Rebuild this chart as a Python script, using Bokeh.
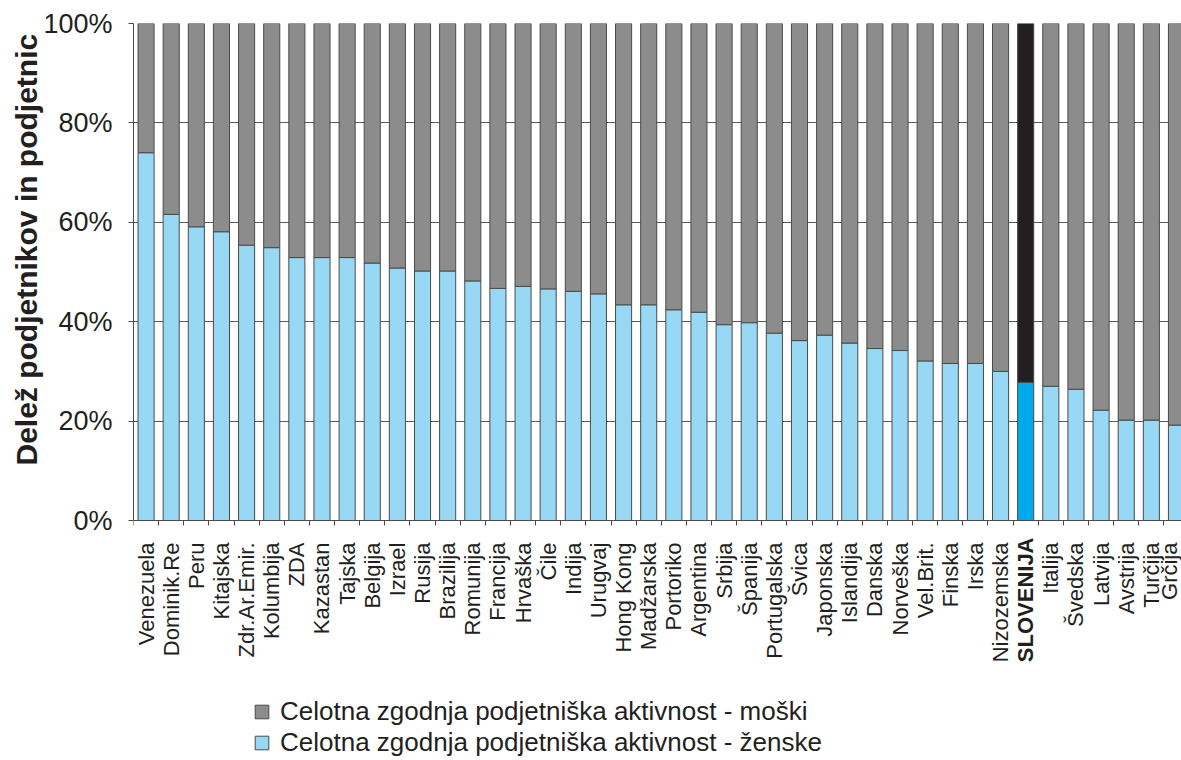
import math
from bokeh.plotting import figure
from bokeh.models import (ColumnDataSource, Range1d, FixedTicker, PrintfTickFormatter,
                          Legend, LegendItem, Label, Title)
from bokeh.transform import stack
from bokeh.embed import file_html
from bokeh.resources import INLINE

countries = ["Venezuela", "Dominik.Re", "Peru", "Kitajska", "Zdr.Ar.Emir.", "Kolumbija", "ZDA",
             "Kazastan", "Tajska", "Belgija", "Izrael", "Rusija", "Brazilija", "Romunija",
             "Francija", "Hrvaška", "Čile", "Indija", "Urugvaj", "Hong Kong", "Madžarska",
             "Portoriko", "Argentina", "Srbija", "Španija", "Portugalska", "Švica", "Japonska",
             "Islandija", "Danska", "Norveška", "Vel.Brit.", "Finska", "Irska", "Nizozemska",
             "SLOVENIJA", "Italija", "Švedska", "Latvija", "Avstrija", "Turčija", "Grčija"]
female = [74.0, 61.6, 59.1, 58.1, 55.4, 54.9, 52.9, 52.9, 52.9, 51.8, 50.8, 50.2, 50.2, 48.2,
          46.7, 47.1, 46.6, 46.1, 45.6, 43.4, 43.4, 42.4, 41.9, 39.4, 39.8, 37.7, 36.2, 37.3,
          35.7, 34.6, 34.2, 32.1, 31.6, 31.6, 30.0, 27.8, 27.0, 26.4, 22.2, 20.2, 20.2, 19.2]
male = [26.0, 38.4, 40.9, 41.9, 44.6, 45.1, 47.1, 47.1, 47.1, 48.2, 49.2, 49.8, 49.8, 51.8,
        53.3, 52.9, 53.4, 53.9, 54.4, 56.6, 56.6, 57.6, 58.1, 60.6, 60.2, 62.3, 63.8, 62.7,
        64.3, 65.4, 65.8, 67.9, 68.4, 68.4, 70.0, 72.2, 73.0, 73.6, 77.8, 79.8, 79.8, 80.8]
y_ticks = [0, 20, 40, 60, 80, 100]
highlight = "SLOVENIJA"
legend_male = "Celotna zgodnja podjetniška aktivnost - moški"
legend_female = "Celotna zgodnja podjetniška aktivnost - ženske"
y_title = "Delež podjetnikov in podjetnic"

FONT = "Liberation Sans"
TXT = "#231F20"
EDGE = "#4A4A4A"

W, H = 1181, 760
TOP, LEFT = 23, 133
PLOT_PX = 497.0                     # pixels from 0% to 100%
frame_h = H - TOP
y_start = y_ticks[-1] - frame_h * (y_ticks[-1] - y_ticks[0]) / PLOT_PX
px_per_unit = PLOT_PX / (y_ticks[-1] - y_ticks[0])

xs = list(range(len(countries)))
x_start, x_end = -0.5, 41.2
f_fill = ["#00A8EC" if c == highlight else "#97D9F5" for c in countries]
m_fill = ["#231F20" if c == highlight else "#8C8C8C" for c in countries]
src = ColumnDataSource(dict(x=xs, female=female, male=male, f_fill=f_fill, m_fill=m_fill))

p = figure(width=W, height=H, title=None,
           x_range=Range1d(x_start, x_end), y_range=Range1d(y_start, y_ticks[-1]),
           output_backend="svg", toolbar_location=None,
           min_border_left=LEFT, min_border_right=0, min_border_top=TOP, min_border_bottom=0)
p.outline_line_color = None
p.background_fill_color = "white"

p.ygrid.ticker = FixedTicker(ticks=y_ticks)
p.ygrid.grid_line_color = "#5A5A5A"
p.ygrid.grid_line_width = 1
p.xgrid.grid_line_color = None

rf = p.vbar(x="x", width=0.64, bottom=0, top=stack("female"), source=src,
            fill_color="f_fill", line_color=EDGE, line_width=1)
rm = p.vbar(x="x", width=0.64, bottom=stack("female"), top=stack("female", "male"), source=src,
            fill_color="m_fill", line_color=EDGE, line_width=1)

# y axis
p.yaxis.bounds = (y_ticks[0], y_ticks[-1])
p.yaxis.ticker = FixedTicker(ticks=y_ticks)
p.yaxis.formatter = PrintfTickFormatter(format="%d%%")
p.yaxis.major_label_text_font = FONT
p.yaxis.major_label_text_font_size = "27px"
p.yaxis.major_label_text_color = TXT
p.yaxis.major_tick_out = 5
p.yaxis.major_tick_in = 0
p.yaxis.minor_tick_line_color = None
p.yaxis.major_label_standoff = 16
p.yaxis.axis_line_color = EDGE
p.yaxis.major_tick_line_color = EDGE

# y-axis title: starts a little above the 0% line and reads upwards
title_start_above_frame_bottom = 295
p.add_layout(Title(text=y_title, align="left", offset=title_start_above_frame_bottom, standoff=-4,
                   text_font=FONT, text_font_size="30px", text_font_style="bold",
                   text_color=TXT), "left")

# x axis at 0%: labels at centers, ticks at category boundaries
idx_hl = countries.index(highlight)
p.xaxis.fixed_location = y_ticks[0]
p.xaxis.bounds = (x_start, x_end)
p.xaxis.ticker = FixedTicker(ticks=xs, minor_ticks=[i - 0.5 for i in range(len(countries) + 1)])
p.xaxis.major_label_overrides = {i: ("" if c == highlight else c) for i, c in enumerate(countries)}
p.xaxis.major_label_orientation = math.pi / 2
p.xaxis.major_label_text_font = FONT
p.xaxis.major_label_text_font_size = "22px"
p.xaxis.major_label_text_color = TXT
p.xaxis.major_tick_line_color = None
p.xaxis.major_tick_out = 0
p.xaxis.major_tick_in = 0
p.xaxis.minor_tick_line_color = EDGE
p.xaxis.minor_tick_out = 5
p.xaxis.minor_tick_in = 0
p.xaxis.major_label_standoff = 17
p.xaxis.axis_line_color = EDGE

p.add_layout(Label(x=idx_hl, y=y_ticks[0] - 17 / px_per_unit, text=highlight, angle=math.pi / 2,
                   text_align="right", text_baseline="middle", text_font=FONT,
                   text_font_size="22px", text_font_style="bold", text_color=TXT))

legend = Legend(items=[LegendItem(label=legend_male, renderers=[rm]),
                       LegendItem(label=legend_female, renderers=[rf])],
                location=(120, 2), orientation="vertical",
                glyph_width=17, glyph_height=17, label_standoff=10,
                label_text_font=FONT, label_text_font_size="26px", label_text_color=TXT,
                padding=0, margin=0, spacing=0,
                border_line_color=None, background_fill_alpha=0)
p.add_layout(legend)

open("out.html", "w").write(file_html(p, INLINE))
